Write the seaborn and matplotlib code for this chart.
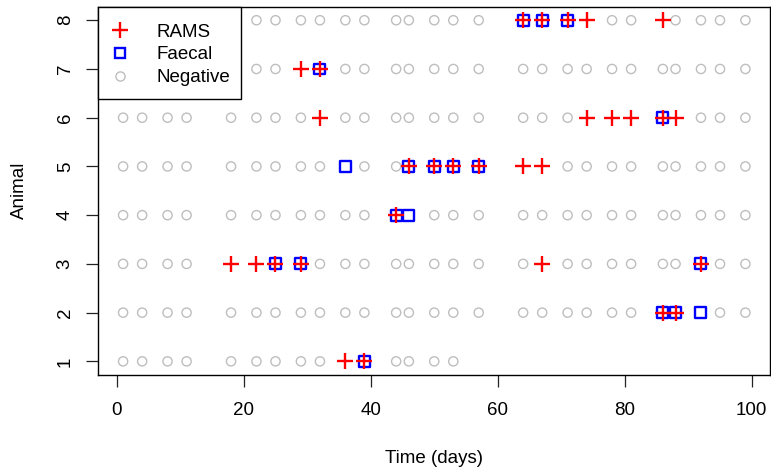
import matplotlib
matplotlib.use("Agg")
import matplotlib.pyplot as plt
from matplotlib.lines import Line2D
from matplotlib.patches import Rectangle
import seaborn as sns
import pandas as pd

# ---- data ----
sample_days = [1, 4, 8, 11, 18, 22, 25, 29, 32, 36, 39, 44, 46, 50, 53,
               57, 64, 67, 71, 74, 78, 81, 86, 88, 92, 95, 99]
animals = [1, 2, 3, 4, 5, 6, 7, 8]
last_day = {1: 53, 2: 99, 3: 99, 4: 99, 5: 99, 6: 99, 7: 99, 8: 99}

rams_a1 = [36, 39]
rams_a2 = [86, 88]
rams_a3 = [18, 22, 25, 29, 67, 92]
rams_a4 = [44]
rams_a5 = [46, 50, 53, 57, 64, 67]
rams_a6 = [32, 74, 78, 81, 86, 88]
rams_a7 = [29, 32]
rams_a8 = [64, 67, 71, 74, 86]

faecal_a1 = [39]
faecal_a2 = [86, 88, 92]
faecal_a3 = [25, 29, 92]
faecal_a4 = [44, 46]
faecal_a5 = [36, 46, 50, 53, 57]
faecal_a6 = [86]
faecal_a7 = [32]
faecal_a8 = [64, 67, 71]

x_ticks = [0, 20, 40, 60, 80, 100]
legend_labels = ["RAMS", "Faecal", "Negative"]

rams = [rams_a1, rams_a2, rams_a3, rams_a4, rams_a5, rams_a6, rams_a7, rams_a8]
faecal = [faecal_a1, faecal_a2, faecal_a3, faecal_a4, faecal_a5, faecal_a6,
          faecal_a7, faecal_a8]

rows = []
for a, r, f in zip(animals, rams, faecal):
    for d in sample_days:
        if d > last_day[a]:
            continue
        if d in r:
            rows.append((d, a, "RAMS"))
        if d in f:
            rows.append((d, a, "Faecal"))
        if d not in r and d not in f:
            rows.append((d, a, "Negative"))
df = pd.DataFrame(rows, columns=["day", "animal", "result"])

# ---- plotting ----
sns.set_style("ticks")
plt.rcParams["font.family"] = ["Liberation Sans", "DejaVu Sans"]
plt.rcParams["text.color"] = "black"
plt.rcParams["axes.labelcolor"] = "black"
plt.rcParams["xtick.color"] = "black"
plt.rcParams["ytick.color"] = "black"

FS = 13.5
W, H = 771, 468
fig = plt.figure(figsize=(W / 100, H / 100), dpi=100)
left, right, top, bottom = 98.2, 770.3, 6.6, 375.0
aw, ah = right - left, bottom - top
ax = fig.add_axes([left / W, 1 - bottom / H, aw / W, ah / H])

GREY, BLUE, RED = "#BEBEBE", "#0000FF", "#FF0000"

neg = df[df.result == "Negative"]
fae = df[df.result == "Faecal"]
ram = df[df.result == "RAMS"]

sns.scatterplot(data=neg, x="day", y="animal", ax=ax, marker="o", s=44,
                facecolors="none", edgecolor=GREY, linewidth=1.0, legend=False, zorder=2)
sns.scatterplot(data=fae, x="day", y="animal", ax=ax, marker="s", s=62,
                facecolors="none", edgecolor=BLUE, linewidth=1.7, legend=False, zorder=3)
sns.scatterplot(data=ram, x="day", y="animal", ax=ax, marker="+", s=120,
                color=RED, linewidth=1.7, legend=False, zorder=4)

ax.set_xlim(-2.92, 102.92)
ax.set_ylim(0.72, 8.28)
ax.set_xticks(x_ticks)
ax.set_yticks(animals)
ax.set_yticklabels([str(a) for a in animals], rotation=90, va="center")
ax.tick_params(axis="both", direction="out", length=8.6, width=0.9,
               labelsize=FS, color="#222222", labelcolor="black")
ax.tick_params(axis="x", pad=11.0)
ax.tick_params(axis="y", pad=9)
for sp in ax.spines.values():
    sp.set_visible(True)
    sp.set_color("black")
    sp.set_linewidth(1.0)

ax.set_xlabel("Time (days)", fontsize=FS, labelpad=22)
ax.set_ylabel("Animal", fontsize=FS, labelpad=21)

# legend box (R style) drawn manually, entries via matplotlib legend
box_w = (241 - left) / aw
box_h = (99 - top) / ah
ax.add_patch(Rectangle((0, 1 - box_h), box_w, box_h, transform=ax.transAxes,
                       facecolor="white", edgecolor="black", linewidth=1.0,
                       zorder=9, clip_on=False))

handles = [
    Line2D([], [], linestyle="none", marker="+", color=RED, markersize=11, markeredgewidth=1.7),
    Line2D([], [], linestyle="none", marker="s", markerfacecolor="none",
           markeredgecolor=BLUE, markersize=7.9, markeredgewidth=1.7),
    Line2D([], [], linestyle="none", marker="o", markerfacecolor="none",
           markeredgecolor=GREY, markersize=6.6, markeredgewidth=1.0),
]
fs_px = FS * 100 / 72
hl = 1.0
handle_left = 120 - hl * fs_px / 2
htp = (157 - handle_left - hl * fs_px) / fs_px
leg = ax.legend(handles, legend_labels, loc="upper left",
                bbox_to_anchor=((handle_left - left) / aw, 1 - (23.5 - top) / ah),
                borderaxespad=0, frameon=False, fontsize=FS, handlelength=hl,
                handletextpad=htp, borderpad=0, labelspacing=0.30)
leg.set_zorder(10)

fig.savefig("out.png", dpi=100)
